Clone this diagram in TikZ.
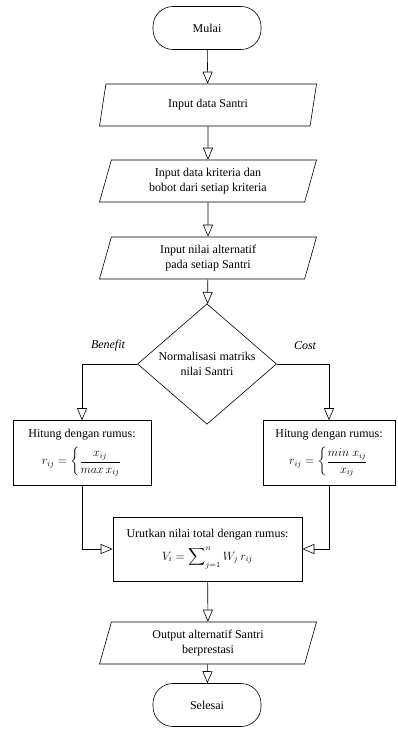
\documentclass[tikz,border=0pt]{standalone}
\usepackage{amsmath,amssymb}
\usepackage{fontspec}
\setmainfont{Liberation Serif}
\usetikzlibrary{shapes.geometric,arrows.meta,positioning}

\begin{document}
\begin{tikzpicture}[
    x=1pt, y=-1pt,
    line width=0.6pt,
    every node/.style={text centered, align=center, font=\fontsize{12}{15}\selectfont},
    terminal/.style={draw, rounded corners=20pt, minimum width=108pt, minimum height=43pt},
    io/.style={draw, trapezium, trapezium left angle=70, trapezium right angle=110,
        trapezium stretches body, minimum width=217pt, minimum height=42pt},
    process/.style={draw, rectangle, minimum height=65pt},
    decision/.style={draw, diamond, minimum width=139pt, minimum height=98pt, inner sep=0pt},
    flow/.style={draw, -{Triangle[open, length=12pt, width=10pt]}}
]
\useasboundingbox (0,0) rectangle (397,738);

\node[terminal] (mulai) at (207,28) {Mulai};
\node[io] (inSantri) at (208,105) {Input data Santri};
\node[io] (inKriteria) at (208,181) {Input data kriteria dan\\bobot dari setiap kriteria};
\node[io] (inNilai) at (208,258) {Input nilai alternatif\\pada setiap Santri};
\node[decision] (normal) at (207,364) {Normalisasi matriks\\nilai Santri};
\node[font=\fontsize{12}{15}\selectfont\itshape] (lblBenefit) at (108,346) {Benefit};
\node[font=\fontsize{12}{15}\selectfont\itshape] (lblCost) at (305,346) {Cost};
\node[process, minimum width=138pt] (benefit) at (82,453)
    {Hitung dengan rumus:\\[6pt] $r_{ij} = \left\{\dfrac{x_{ij}}{max\,x_{ij}}\right.$};
\node[process, minimum width=132pt] (cost) at (329,453)
    {Hitung dengan rumus:\\[6pt] $r_{ij} = \left\{\dfrac{min\;x_{ij}}{x_{ij}}\right.$};
\node[process, minimum width=189pt, minimum height=64pt] (urut) at (207.5,549)
    {Urutkan nilai total dengan rumus:\\[6pt] $V_i = \displaystyle\sum\nolimits_{j=1}^{n} W_j\,r_{ij}$};
\node[io] (output) at (208,643) {Output alternatif Santri\\berprestasi};
\node[terminal] (selesai) at (207,705) {Selesai};

\draw[flow] (mulai) -- (inSantri);
\draw[flow] (inSantri) -- (inKriteria);
\draw[flow] (inKriteria) -- (inNilai);
\draw[flow] (inNilai) -- (normal);
\draw[flow] (normal.west) -| (benefit.north);
\draw[flow] (normal.east) -| (cost.north);
\draw[flow] (benefit.south) |- (urut.west);
\draw[flow] (cost.south) |- (urut.east);
\draw[flow] (urut) -- (output);
\draw[flow] (output) -- (selesai);

\end{tikzpicture}
\end{document}
